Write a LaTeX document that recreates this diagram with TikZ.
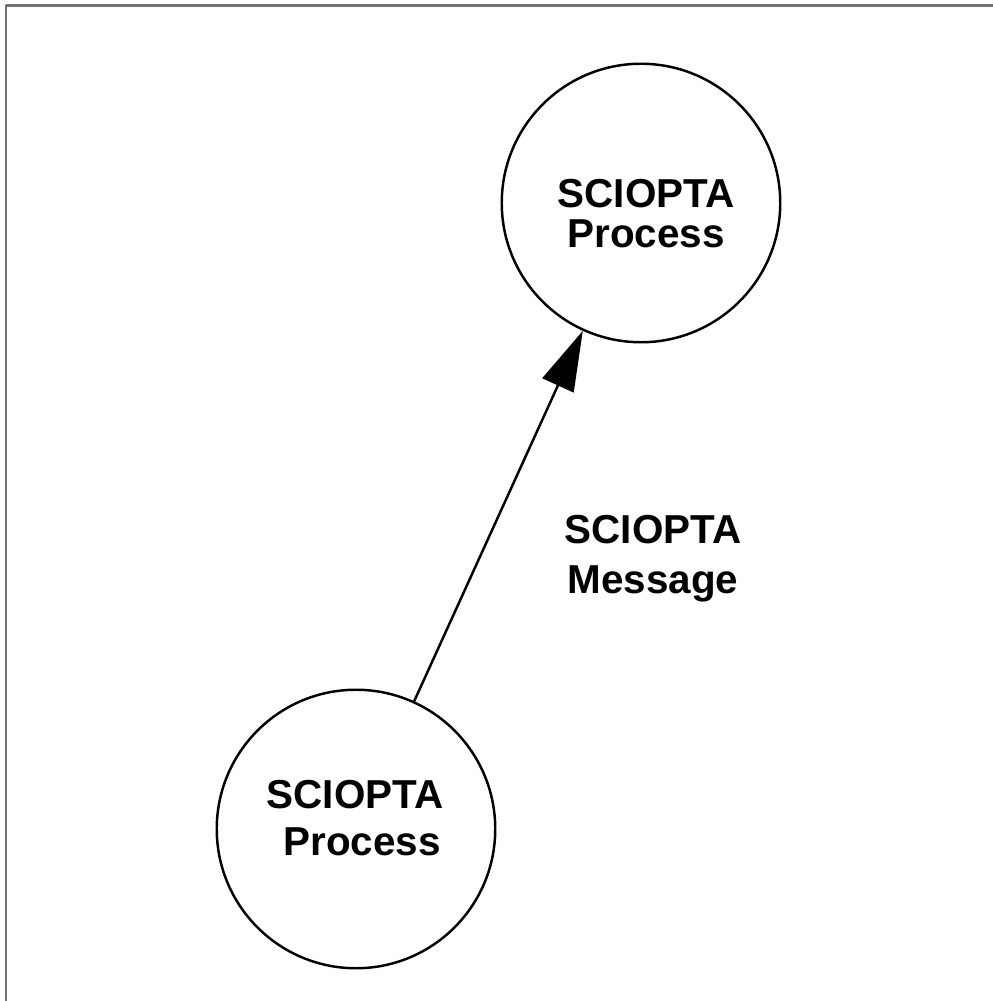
\documentclass[tikz,border=0pt]{standalone}
\usepackage{fontspec}
\setmainfont{Liberation Sans}
\usetikzlibrary{arrows.meta}
\begin{document}
\begin{tikzpicture}[line join=round,>={Triangle[length=12mm,width=6.8mm]}]
            \tikzset{proc/.style={draw,circle,line width=1.4pt,minimum size=5.57cm,inner sep=0pt},
                lbl/.style={font=\bfseries\fontsize{23}{#1}\selectfont,align=center,anchor=base,inner sep=0pt}}
            \useasboundingbox (0,0) rectangle (19.86,20.02);
            \draw[black!55,line width=0.05cm] (0.115,0) -- (0.115,19.905) -- (19.86,19.905);
            \node[proc] (hi) at (12.82,15.96) {};
            \node[proc] (lo) at (7.12,3.44) {};
            % base = baseline of the last line
            \node[lbl=22.8pt] (hitext) at (12.92,15.06) {SCIOPTA\\Process};
            \node[lbl=27.3pt] (lotext) at (7.10,2.90) {SCIOPTA\\\hspace*{0.28cm}Process};
            \node[lbl=29pt] (msg) at (13.06,8.14) {SCIOPTA\\Message};
            \draw[->,line width=1.4pt] (lo) -- (hi);
        \end{tikzpicture}
\end{document}
